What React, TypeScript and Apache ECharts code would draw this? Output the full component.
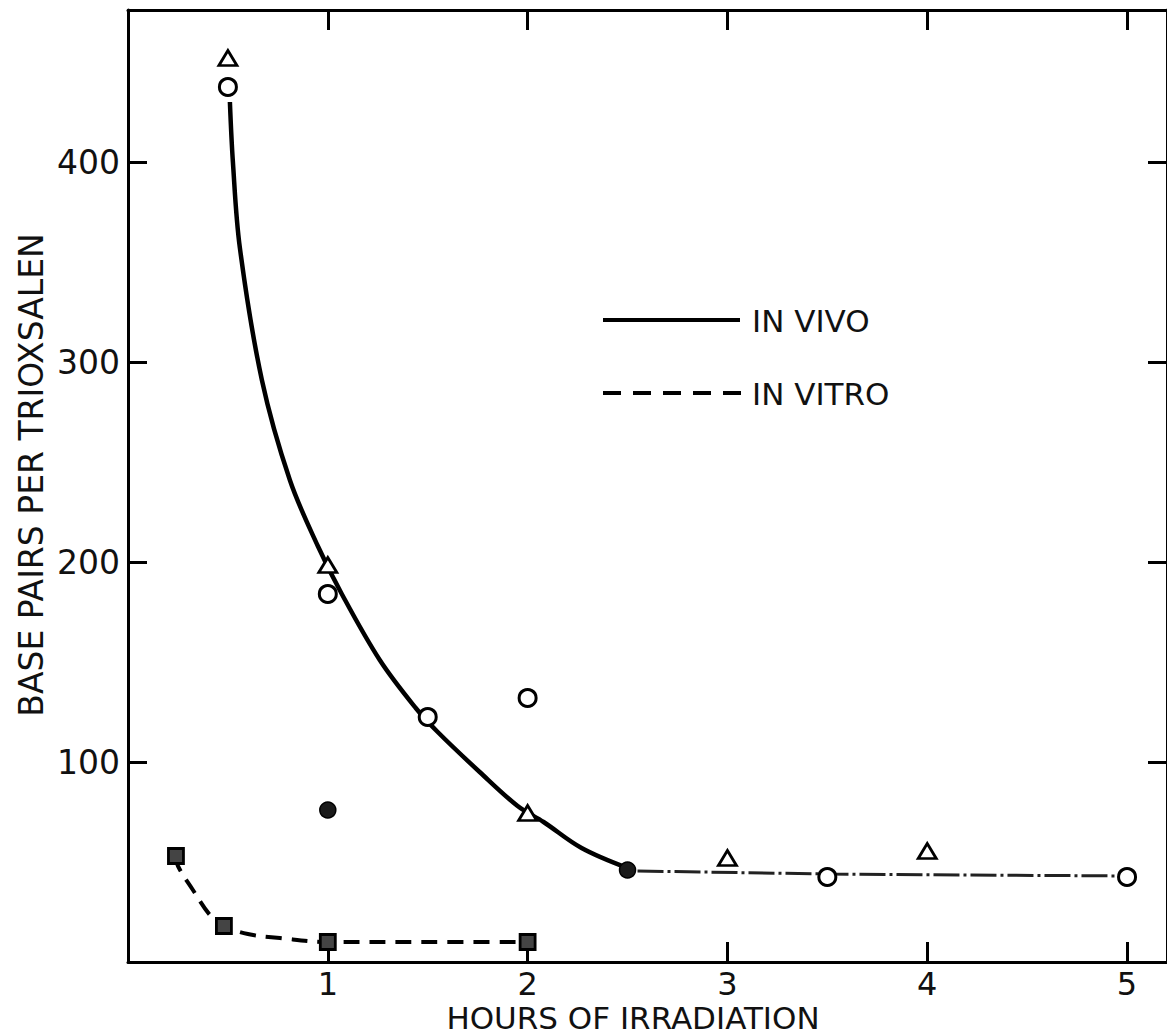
import React, { useEffect, useRef } from "react";
import * as echarts from "echarts";

// ---- data ----
const xTickLabels = [1, 2, 3, 4, 5];
const yTickLabels = [100, 200, 300, 400];

// in vivo markers
const vivoTriangles: [number, number][] = [
  [0.5, 452], [1, 198.5], [2, 74.5], [3, 52], [4, 55.5],
];
const vivoOpenCircles: [number, number][] = [
  [0.5, 437.5], [1, 184], [1.5, 122.5], [2, 132], [3.5, 42.5], [5, 42.5],
];
const vivoFilledCircles: [number, number][] = [
  [1, 76], [2.5, 46],
];
// in vitro markers
const vitroSquares: [number, number][] = [
  [0.24, 53], [0.48, 18], [1, 10], [2, 10],
];

// hand-drawn curves
const vivoCurve: [number, number][] = [
  [0.51, 430], [0.525, 400], [0.56, 357], [0.67, 291], [0.81, 241], [0.95, 208],
  [1.07, 184], [1.26, 151], [1.44, 127], [1.55, 115], [1.76, 95], [1.95, 78],
  [2.08, 70], [2.27, 57], [2.5, 47],
];
const vivoPlateau: [number, number][] = [
  [2.55, 45.5], [3.5, 44], [5, 43],
];
const vitroCurve: [number, number][] = [
  [0.24, 53], [0.25, 48], [0.325, 36], [0.41, 23.5], [0.48, 18], [0.6, 14],
  [0.76, 12], [1, 10], [1.5, 10], [2, 10],
];

const FONT = "DejaVu Sans";
const INK = "#111";

export default function App() {
  const ref = useRef<HTMLDivElement>(null);

  useEffect(() => {
    if (!ref.current) return;
    const chart = echarts.init(ref.current, undefined, { renderer: "svg" });

    const axisLine = { show: true, onZero: false, lineStyle: { color: "#000", width: 3 } };
    const tick = { show: true, inside: true, length: 20, lineStyle: { color: "#000", width: 3 } };

    const xBase = {
      type: "value",
      min: 0,
      max: 5.2,
      interval: 1,
      splitLine: { show: false },
      axisLine,
      axisTick: tick,
    };
    const yBase = {
      type: "value",
      min: 0,
      max: 476,
      interval: 100,
      splitLine: { show: false },
      axisLine,
      axisTick: { ...tick, length: 19 },
    };

    chart.setOption({
      animation: false,
      backgroundColor: "#fff",
      grid: { left: 128, top: 10, width: 1040, height: 952, containLabel: false },
      xAxis: [
        {
          ...xBase,
          position: "bottom",
          axisLabel: {
            show: true,
            margin: 9,
            fontFamily: FONT,
            fontSize: 32,
            lineHeight: 26,
            color: INK,
            showMaxLabel: false,
            formatter: (v: number) => (xTickLabels.includes(v) ? String(v) : ""),
          },
        },
        {
          ...xBase,
          position: "top",
          axisLabel: { show: false },
        },
      ],
      yAxis: [
        {
          ...yBase,
          position: "left",
          axisLabel: {
            show: true,
            margin: 8,
            fontFamily: FONT,
            fontSize: 33,
            color: INK,
            showMaxLabel: false,
            formatter: (v: number) => (yTickLabels.includes(v) ? String(v) : ""),
          },
        },
        {
          ...yBase,
          position: "right",
          axisLabel: { show: false },
        },
      ],
      graphic: [
        {
          type: "text",
          x: 31,
          y: 475,
          rotation: Math.PI / 2,
          style: {
            text: "BASE PAIRS PER TRIOXSALEN",
            fontFamily: FONT,
            fontSize: 33,
            fill: INK,
            align: "center",
            verticalAlign: "middle",
          },
        },
        {
          type: "text",
          x: 633,
          y: 1018,
          style: {
            text: "HOURS OF IRRADIATION",
            fontFamily: FONT,
            fontSize: 31,
            lineHeight: 26,
            fill: INK,
            align: "center",
            verticalAlign: "middle",
          },
        },
        {
          type: "line",
          shape: { x1: 603, y1: 320, x2: 740, y2: 320 },
          style: { stroke: "#000", lineWidth: 4 },
        },
        {
          type: "text",
          x: 752,
          y: 321,
          style: {
            text: "IN VIVO",
            fontFamily: FONT,
            fontSize: 31,
            fill: INK,
            align: "left",
            verticalAlign: "middle",
          },
        },
        {
          type: "line",
          shape: { x1: 603, y1: 393, x2: 742, y2: 393 },
          style: { stroke: "#000", lineWidth: 4, lineDash: [18, 12] },
        },
        {
          type: "text",
          x: 752,
          y: 394,
          style: {
            text: "IN VITRO",
            fontFamily: FONT,
            fontSize: 31,
            fill: INK,
            align: "left",
            verticalAlign: "middle",
          },
        },
      ],
      series: [
        {
          name: "IN VIVO",
          type: "line",
          data: vivoCurve,
          smooth: 0.35,
          showSymbol: false,
          z: 2,
          lineStyle: { color: "#000", width: 4.5 },
        },
        {
          name: "IN VIVO plateau",
          type: "line",
          data: vivoPlateau,
          smooth: false,
          showSymbol: false,
          z: 2,
          lineStyle: { color: "#222", width: 3, type: [26, 4, 3, 4] },
        },
        {
          name: "IN VITRO",
          type: "line",
          data: vitroCurve,
          smooth: 0.35,
          showSymbol: false,
          z: 2,
          lineStyle: { color: "#000", width: 4, type: [16, 10] },
        },
        {
          name: "triangles",
          type: "scatter",
          data: vivoTriangles,
          symbol: "triangle",
          symbolSize: [18, 15],
          z: 5,
          itemStyle: { color: "#fff", borderColor: "#000", borderWidth: 2.8, opacity: 1 },
        },
        {
          name: "open circles",
          type: "scatter",
          data: vivoOpenCircles,
          symbol: "circle",
          symbolSize: 17,
          z: 5,
          itemStyle: { color: "#fff", borderColor: "#000", borderWidth: 3, opacity: 1 },
        },
        {
          name: "filled circles",
          type: "scatter",
          data: vivoFilledCircles,
          symbol: "circle",
          symbolSize: 16,
          z: 5,
          itemStyle: { color: "#1a1a1a", borderColor: "#000", borderWidth: 1.5, opacity: 1 },
        },
        {
          name: "squares",
          type: "scatter",
          data: vitroSquares,
          symbol: "rect",
          symbolSize: 15,
          z: 5,
          itemStyle: { color: "#444", borderColor: "#000", borderWidth: 2.8, opacity: 1 },
        },
      ],
    });

    return () => chart.dispose();
  }, []);

  return (
    <div
      ref={ref}
      style={{ position: "absolute", left: 0, top: 0, width: 1167, height: 1035, background: "#fff" }}
    />
  );
}
